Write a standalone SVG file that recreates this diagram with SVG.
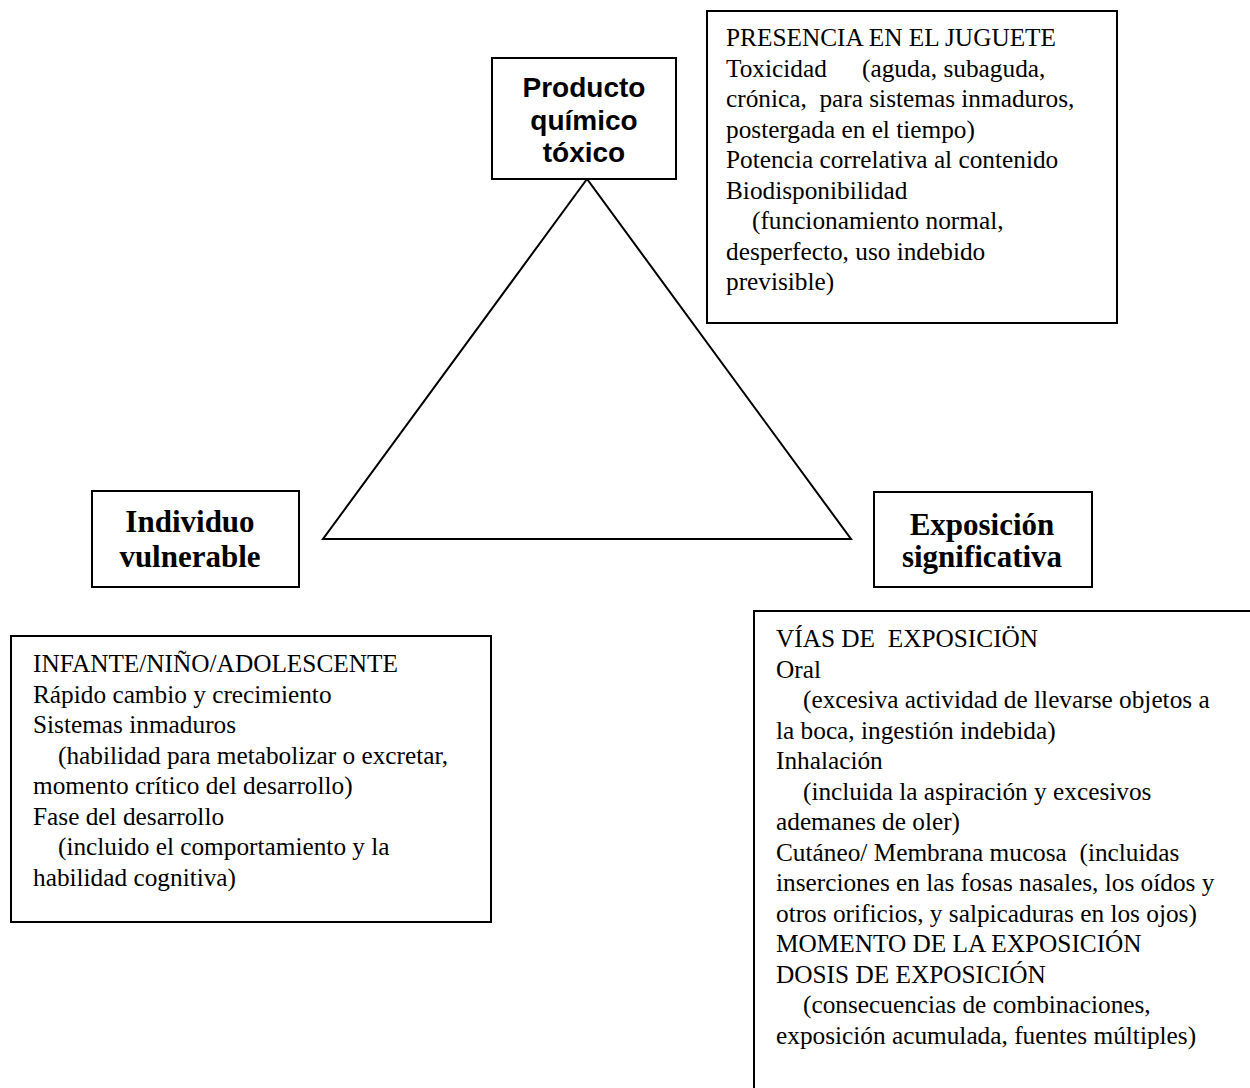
<svg xmlns="http://www.w3.org/2000/svg" width="1250" height="1088" viewBox="0 0 1250 1088">
<style>
.box{fill:#fff;stroke:#000;stroke-width:2}
.tri{fill:none;stroke:#000;stroke-width:2;stroke-linejoin:miter}
.ttl{font-family:"Liberation Sans",Arial,sans-serif;font-weight:bold;font-size:28px;text-anchor:middle;fill:#000}
.ttlS{font-family:"Liberation Serif","Times New Roman",serif;font-weight:bold;font-size:31px;text-anchor:middle;fill:#000}
.body{font-family:"Liberation Serif","Times New Roman",serif;font-size:25.3px;fill:#000;white-space:pre}
</style>
<rect width="1250" height="1088" fill="#fff"/>
<g id="connectors">
<polygon class="tri" points="587,179 323,539 851,539"/>
</g>
<g id="producto">
<rect class="box" x="492" y="58" width="184" height="121"/>
<text class="ttl" x="584" y="97">Producto</text>
<text class="ttl" x="584" y="130">químico</text>
<text class="ttl" x="584" y="162">tóxico</text>
</g>
<g id="individuo">
<rect class="box" x="92" y="491" width="207" height="96"/>
<text class="ttlS" x="190" y="532">Individuo</text>
<text class="ttlS" x="190" y="567">vulnerable</text>
</g>
<g id="exposicion">
<rect class="box" x="874" y="492" width="218" height="95"/>
<text class="ttlS" x="982" y="535">Exposición</text>
<text class="ttlS" x="982" y="567">significativa</text>
</g>
<g id="presencia">
<rect class="box" x="707" y="11" width="410" height="312"/>
<text class="body">
<tspan x="726" y="46">PRESENCIA EN EL JUGUETE</tspan>
<tspan x="726" y="76.5">Toxicidad</tspan><tspan x="862" y="76.5">(aguda, subaguda,</tspan>
<tspan x="726" y="107">crónica,  para sistemas inmaduros,</tspan>
<tspan x="726" y="137.5">postergada en el tiempo)</tspan>
<tspan x="726" y="168">Potencia correlativa al contenido</tspan>
<tspan x="726" y="198.5">Biodisponibilidad</tspan>
<tspan x="752" y="229">(funcionamiento normal,</tspan>
<tspan x="726" y="259.5">desperfecto, uso indebido</tspan>
<tspan x="726" y="290">previsible)</tspan>
</text>
</g>
<g id="infante">
<rect class="box" x="11" y="636" width="480" height="286"/>
<text class="body">
<tspan x="33" y="672">INFANTE/NIÑO/ADOLESCENTE</tspan>
<tspan x="33" y="702.5">Rápido cambio y crecimiento</tspan>
<tspan x="33" y="733">Sistemas inmaduros</tspan>
<tspan x="58" y="763.5">(habilidad para metabolizar o excretar,</tspan>
<tspan x="33" y="794">momento crítico del desarrollo)</tspan>
<tspan x="33" y="824.5">Fase del desarrollo</tspan>
<tspan x="58" y="855">(incluido el comportamiento y la</tspan>
<tspan x="33" y="885.5">habilidad cognitiva)</tspan>
</text>
</g>
<g id="vias">
<rect class="box" x="754" y="611" width="520" height="520"/>
<text class="body">
<tspan x="776" y="647">VÍAS DE  EXPOSICIÖN</tspan>
<tspan x="776" y="677.5">Oral</tspan>
<tspan x="803" y="708">(excesiva actividad de llevarse objetos a</tspan>
<tspan x="776" y="738.5">la boca, ingestión indebida)</tspan>
<tspan x="776" y="769">Inhalación</tspan>
<tspan x="803" y="799.5">(incluida la aspiración y excesivos</tspan>
<tspan x="776" y="830">ademanes de oler)</tspan>
<tspan x="776" y="860.5">Cutáneo/ Membrana mucosa  (incluidas</tspan>
<tspan x="776" y="891">inserciones en las fosas nasales, los oídos y</tspan>
<tspan x="776" y="921.5">otros orificios, y salpicaduras en los ojos)</tspan>
<tspan x="776" y="952">MOMENTO DE LA EXPOSICIÓN</tspan>
<tspan x="776" y="982.5">DOSIS DE EXPOSICIÓN</tspan>
<tspan x="803" y="1013">(consecuencias de combinaciones,</tspan>
<tspan x="776" y="1043.5">exposición acumulada, fuentes múltiples)</tspan>
</text>
</g>
</svg>
